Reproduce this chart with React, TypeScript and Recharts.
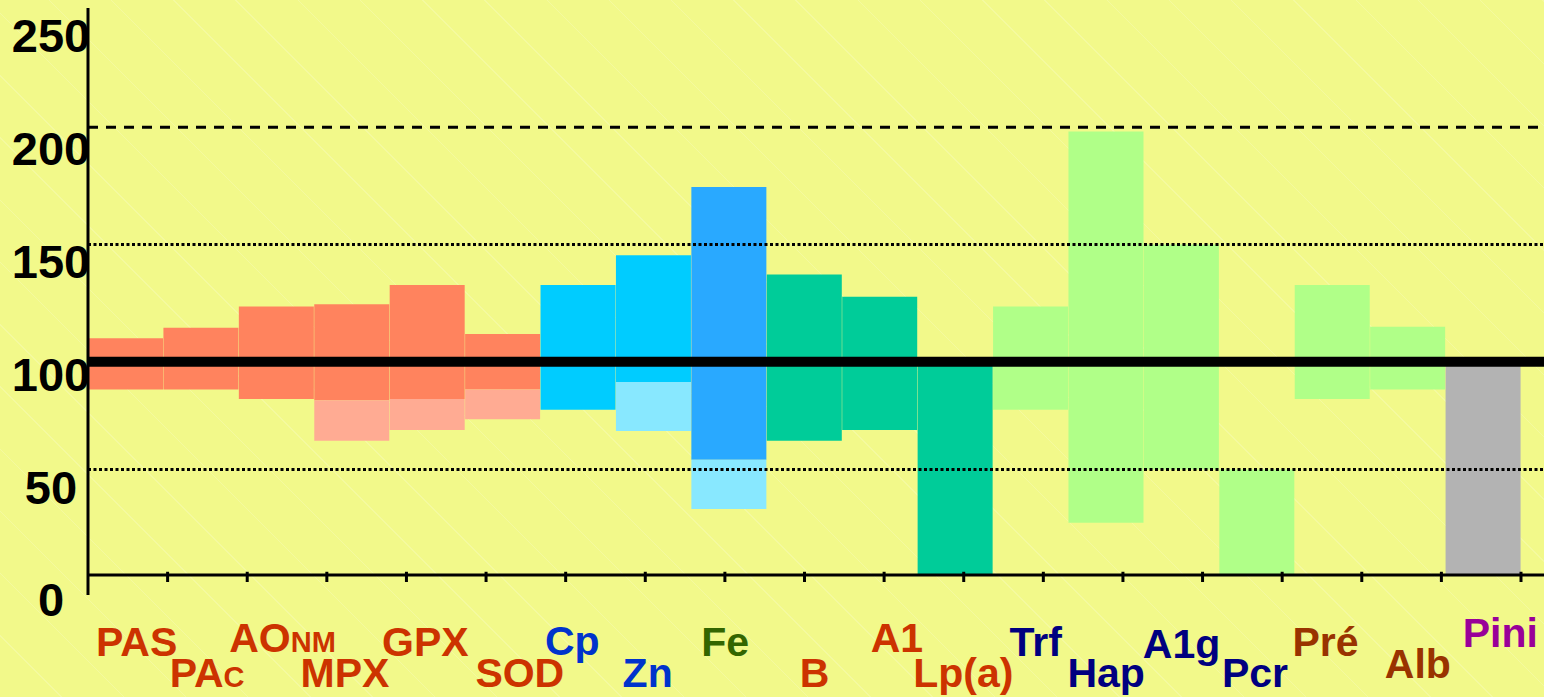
import React from 'react';
import { ComposedChart, Bar, XAxis, YAxis, ReferenceLine, Cell } from 'recharts';

// ---------- data ----------
const categories = ['PAS', 'PAc', 'AOnm', 'MPX', 'GPX', 'SOD', 'Cp', 'Zn', 'Fe', 'B', 'A1', 'Lp(a)', 'Trf', 'Hap', 'A1g', 'Pcr', 'Pré', 'Alb', 'Pini'];
const upperValues = [111, 116, 126, 127, 136, 113, 136, 150, 182, 141, 130.5, 100, 126, 208, 155, 49.5, 136, 116.5, 100];
const lowerValues = [87, 87, 82.5, 82, 82.5, 87, 77.5, 90.5, 54, 63, 68, 0, 77.5, 24.5, 49.5, 0, 82.5, 87, 0];
const extendedLowerValues: (number | null)[] = [null, null, null, 63, 68, 73, null, 67.5, 31, null, null, null, null, null, null, null, null, null, null];
const yTicks = [0, 50, 100, 150, 200, 250];
const referenceLevel = 100;
const upperDashedLevel = 210;
const upperDottedLevel = 155;
const lowerDottedLevel = 49.5;

// ---------- styles ----------
const barColors = ['#FF835E', '#FF835E', '#FF835E', '#FF835E', '#FF835E', '#FF835E', '#00CCFF', '#00CCFF', '#29A9FF', '#00CC99', '#00CC99', '#00CC99', '#B0FF88', '#B0FF88', '#B0FF88', '#B0FF88', '#B0FF88', '#B0FF88', '#B3B3B3'];
const lightColors = ['#FFAB93', '#FFAB93', '#FFAB93', '#FFAB93', '#FFAB93', '#FFAB93', '#88E8FF', '#88E8FF', '#88E8FF', '#88E8FF', '#88E8FF', '#88E8FF', '#88E8FF', '#88E8FF', '#88E8FF', '#88E8FF', '#88E8FF', '#88E8FF', '#88E8FF'];
const labelColors = ['#CC3300', '#CC3300', '#CC3300', '#CC3300', '#CC3300', '#CC3300', '#0033CC', '#0033CC', '#336600', '#CC3300', '#CC3300', '#CC3300', '#000080', '#000080', '#000080', '#000080', '#993300', '#993300', '#990099'];
const labelNudge: Record<string, { dx: number; dy: number }> = {
  PAS: { dx: 11, dy: 0 }, PAc: { dx: 6, dy: 0 }, AOnm: { dx: 6, dy: -4 }, MPX: { dx: -7, dy: 0 },
  GPX: { dx: -2, dy: 0 }, SOD: { dx: 17, dy: 0 }, Cp: { dx: -6, dy: -1 }, Zn: { dx: -6, dy: 0 },
  Fe: { dx: -4, dy: 0 }, B: { dx: 10, dy: 0 }, A1: { dx: 17, dy: -4 }, 'Lp(a)': { dx: 8, dy: 0 },
  Trf: { dx: 5, dy: 0 }, Hap: { dx: 0, dy: 0 }, A1g: { dx: 0, dy: 2 }, Pcr: { dx: -2, dy: 0 },
  'Pré': { dx: -7, dy: 0 }, Alb: { dx: 10, dy: -9 }, Pini: { dx: 17, dy: -9 },
};
const smallCaps = new Set(['PAc', 'AOnm']);
const FONT = '"Liberation Sans", Arial, Helvetica, sans-serif';

const data = categories.map((name, i) => ({
  name,
  main: [lowerValues[i], upperValues[i]],
  ext: extendedLowerValues[i] == null ? null : [extendedLowerValues[i], lowerValues[i]],
}));

const boundaries = categories.map((_, i) => i + 1);

const YTick = (props: any) => {
  const { x, y, payload } = props;
  const v = payload.value as number;
  return (
    <text x={x - 37} y={y} dy={41.5 - 0.126 * v} textAnchor="middle" fontSize={47} fontWeight="bold" fill="#000" fontFamily={FONT}>
      {v}
    </text>
  );
};

const XTick = (props: any) => {
  const { x, y, payload } = props;
  const name = payload.value as string;
  const i = categories.indexOf(name);
  const upperRow = i % 2 === 0;
  const n = labelNudge[name] || { dx: 0, dy: 0 };
  return (
    <text
      x={x + n.dx}
      y={y + (upperRow ? 61 : 92) + n.dy}
      textAnchor="middle"
      fontSize={41}
      fontWeight="bold"
      fill={labelColors[i]}
      fontFamily={FONT}
      style={smallCaps.has(name) ? { fontVariant: 'small-caps' } : undefined}
    >
      {name}
    </text>
  );
};

const pad = { left: 0, right: 23 };

export default function App() {
  return (
    <div
      style={{
        position: 'absolute',
        left: 0,
        top: 0,
        width: 1544,
        height: 697,
        background:
          'repeating-linear-gradient(45deg, rgba(255,255,255,0) 0px, rgba(255,255,255,0) 43px, rgba(255,255,255,0.18) 43px, rgba(255,255,255,0.18) 44px), #F2F98A',
      }}
    >
      <ComposedChart
        width={1544}
        height={697}
        data={data}
        margin={{ top: 8, right: 0, bottom: 0, left: 0 }}
        barCategoryGap={0}
        barGap={0}
      >
        <XAxis
          dataKey="name"
          type="category"
          interval={0}
          height={102}
          padding={pad}
          axisLine={false}
          tickLine={false}
          tickSize={0}
          tickMargin={0}
          tick={<XTick />}
        />
        <XAxis xAxisId="b" dataKey="name" type="category" hide height={0} padding={pad} />
        <XAxis xAxisId="num" type="number" domain={[0, categories.length]} hide height={0} padding={pad} />
        <YAxis
          type="number"
          domain={[-9.4, 266]}
          ticks={yTicks}
          interval={0}
          width={88}
          axisLine={{ stroke: '#000', strokeWidth: 3 }}
          tickLine={false}
          tickSize={0}
          tickMargin={0}
          tick={<YTick />}
        />
        <Bar dataKey="main" isAnimationActive={false}>
          {data.map((_, i) => (
            <Cell key={i} fill={barColors[i]} />
          ))}
        </Bar>
        <Bar dataKey="ext" xAxisId="b" isAnimationActive={false}>
          {data.map((_, i) => (
            <Cell key={i} fill={lightColors[i]} />
          ))}
        </Bar>
        <ReferenceLine y={upperDashedLevel} stroke="#000" strokeWidth={3} strokeDasharray="10 8" />
        <ReferenceLine y={upperDottedLevel} stroke="#000" strokeWidth={3} strokeDasharray="3 2.5" />
        <ReferenceLine y={lowerDottedLevel} stroke="#000" strokeWidth={3} strokeDasharray="3 2.5" />
        <ReferenceLine y={0} stroke="#000" strokeWidth={3} />
        {boundaries.map((b) => (
          <ReferenceLine
            key={b}
            xAxisId="num"
            segment={[{ x: b, y: -3.3 }, { x: b, y: 1.5 }]}
            stroke="#000"
            strokeWidth={3}
          />
        ))}
        <ReferenceLine y={referenceLevel} stroke="#000" strokeWidth={10} />
      </ComposedChart>
    </div>
  );
}
